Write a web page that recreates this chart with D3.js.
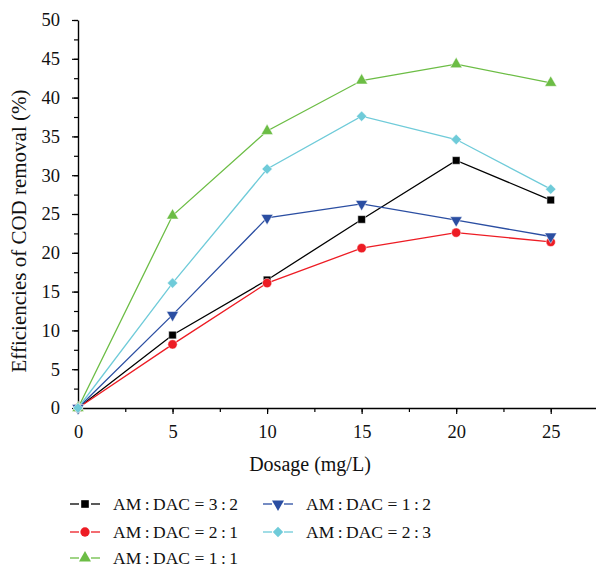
<!DOCTYPE html>
<html>
<head>
<meta charset="utf-8">
<script src="https://cdn.jsdelivr.net/npm/d3@7"></script>
<style>
body { margin: 0; background: #fff; }
text { font-family: "Liberation Serif", "DejaVu Serif", serif; fill: #111; }
</style>
</head>
<body>
<svg width="596" height="569"></svg>
<script>
var dosage = [0, 5, 10, 15, 20, 25];
var ratio32 = [0, 9.4, 16.5, 24.3, 31.9, 26.8];
var ratio21 = [0, 8.2, 16.1, 20.6, 22.6, 21.4];
var ratio11 = [0, 24.8, 35.7, 42.2, 44.3, 41.9];
var ratio12 = [0, 12.0, 24.5, 26.3, 24.2, 22.1];
var ratio23 = [0, 16.1, 30.8, 37.6, 34.6, 28.2];
var seriesNames = ["AM\u2009:\u2009DAC = 3\u2009:\u20092", "AM\u2009:\u2009DAC = 2\u2009:\u20091", "AM\u2009:\u2009DAC = 1\u2009:\u20091",
                   "AM\u2009:\u2009DAC = 1\u2009:\u20092", "AM\u2009:\u2009DAC = 2\u2009:\u20093"];
var xTicks = [0, 5, 10, 15, 20, 25];
var yTicks = [0, 5, 10, 15, 20, 25, 30, 35, 40, 45, 50];

var series = [
  {name: seriesNames[0], values: ratio32, color: "#000000", symbol: d3.symbolSquare, size: 58, rot: 0},
  {name: seriesNames[1], values: ratio21, color: "#ed1c24", symbol: d3.symbolCircle, size: 68, rot: 0},
  {name: seriesNames[2], values: ratio11, color: "#6cbd45", symbol: d3.symbolTriangle, size: 62, rot: 0},
  {name: seriesNames[3], values: ratio12, color: "#2b4ea2", symbol: d3.symbolTriangle, size: 62, rot: 180},
  {name: seriesNames[4], values: ratio23, color: "#6fcbd9", symbol: d3.symbolSquare, size: 54, rot: 45}
];

var svg = d3.select("svg");
var x = d3.scaleLinear().domain([0, 27.5]).range([78, 598]);
var y = d3.scaleLinear().domain([0, 50]).range([408, 20]);

// axes: minor ticks first, then major ticks with labels
var xAxis = svg.append("g").attr("transform", "translate(0,408)");
xAxis.call(d3.axisBottom(x).tickValues(d3.range(0, 27.5, 2.5)).tickSize(4).tickFormat(""));
xAxis.selectAll(".tick line").attr("stroke-width", 1.2);
xAxis.select(".domain").attr("stroke-width", 1.4);
var xMaj = svg.append("g").attr("transform", "translate(0,408)")
  .call(d3.axisBottom(x).tickValues(xTicks).tickSize(6).tickPadding(11));
xMaj.select(".domain").remove();
xMaj.selectAll(".tick line").attr("stroke-width", 1.2);
xMaj.selectAll("text").attr("font-size", 18.5).attr("font-family", "Liberation Serif");

var yAxis = svg.append("g").attr("transform", "translate(78,0)");
yAxis.call(d3.axisLeft(y).tickValues(d3.range(0, 50.1, 2.5)).tickSize(4).tickFormat("").tickSizeOuter(0));
yAxis.selectAll(".tick line").attr("stroke-width", 1.2);
yAxis.select(".domain").attr("stroke-width", 1.4);
var yMaj = svg.append("g").attr("transform", "translate(78,0)")
  .call(d3.axisLeft(y).tickValues(yTicks).tickSize(6).tickPadding(12));
yMaj.select(".domain").remove();
yMaj.selectAll(".tick line").attr("stroke-width", 1.2);
yMaj.selectAll("text").attr("font-size", 18.5).attr("font-family", "Liberation Serif");

// titles
svg.append("text")
  .attr("x", 310).attr("y", 471)
  .attr("text-anchor", "middle")
  .attr("font-size", 20)
  .text("Dosage (mg/L)");

svg.append("text")
  .attr("transform", "translate(26,231) rotate(-90)")
  .attr("text-anchor", "middle")
  .attr("font-size", 21)
  .text("Efficiencies of COD removal (%)");

// lines and markers
var line = d3.line().x((d, i) => x(dosage[i])).y(d => y(d));

series.forEach(function(s) {
  svg.append("path")
    .attr("d", line(s.values))
    .attr("fill", "none")
    .attr("stroke", s.color)
    .attr("stroke-width", 1.3);
});

series.forEach(function(s) {
  svg.selectAll(null)
    .data(s.values)
    .enter()
    .append("path")
    .attr("d", d3.symbol().type(s.symbol).size(s.size))
    .attr("transform", (d, i) => "translate(" + x(dosage[i]) + "," + y(d) + ") rotate(" + s.rot + ")")
    .attr("fill", s.color)
    .attr("stroke", "#fff")
    .attr("stroke-width", 0.5);
});

// legend
var legendPos = [[70, 504], [70, 532], [70, 558], [263, 504], [263, 532]];
series.forEach(function(s, i) {
  var lg = svg.append("g").attr("transform", "translate(" + legendPos[i][0] + "," + legendPos[i][1] + ")");
  lg.append("line").attr("x1", 0).attr("x2", 9).attr("stroke", s.color).attr("stroke-width", 1.3);
  lg.append("line").attr("x1", 21).attr("x2", 30).attr("stroke", s.color).attr("stroke-width", 1.3);
  lg.append("path")
    .attr("d", d3.symbol().type(s.symbol).size(s.size))
    .attr("transform", "translate(15,0) rotate(" + s.rot + ")")
    .attr("fill", s.color);
  lg.append("text")
    .attr("x", 43).attr("y", 6)
    .attr("font-size", 17.5)
    .text(s.name);
});
</script>
</body>
</html>
